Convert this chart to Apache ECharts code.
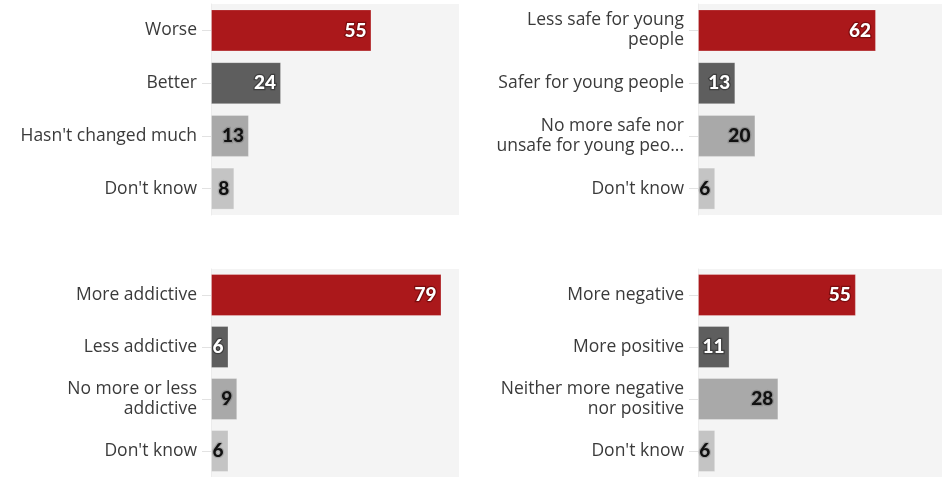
<!DOCTYPE html>
<html>
<head>
<meta charset="utf-8">
<script src="https://cdn.jsdelivr.net/npm/echarts@6/dist/echarts.min.js"></script>
<style>
html,body{margin:0;padding:0;background:#fff;}
#c{width:942px;height:477px;}
</style>
</head>
<body>
<div id="c"></div>
<script>
// Panel 1: top-left
const cats1 = ["Worse", "Better", "Hasn't changed much", "Don't know"];
const vals1 = [55, 24, 13, 8];
// Panel 2: top-right
const cats2 = ["Less safe for young\npeople", "Safer for young people", "No more safe nor\nunsafe for young peo...", "Don't know"];
const vals2 = [62, 13, 20, 6];
// Panel 3: bottom-left
const cats3 = ["More addictive", "Less addictive", "No more or less\naddictive", "Don't know"];
const vals3 = [79, 6, 9, 6];
// Panel 4: bottom-right
const cats4 = ["More negative", "More positive", "Neither more negative\nnor positive", "Don't know"];
const vals4 = [55, 11, 28, 6];

const barColors = ['#ab181b', '#5e5e5e', '#a9a9a9', '#c4c4c4'];
const txtColors = ['#ffffff', '#ffffff', '#111111', '#111111'];
const txtBorders = ['#7a0c0e', '#3e3e3e', '#8f8f8f', '#a8a8a8'];
const FONT = '"Open Sans", "Noto Sans", sans-serif';
const NUMFONT = 'Lato, "Noto Sans", sans-serif';

const grids = [
  {left: 211, top: 4, width: 248, height: 211},
  {left: 698, top: 4, width: 248, height: 211},
  {left: 211, top: 269, width: 248, height: 211},
  {left: 698, top: 269, width: 248, height: 211}
];
const catsAll = [cats1, cats2, cats3, cats4];
const valsAll = [vals1, vals2, vals3, vals4];

const option = {
  animation: false,
  backgroundColor: '#ffffff',
  grid: grids.map(g => Object.assign({show: true, backgroundColor: '#f4f4f4', borderWidth: 0}, g)),
  xAxis: grids.map((g, i) => ({
    type: 'value', gridIndex: i, min: 0, max: 85,
    axisLine: {show: false}, axisTick: {show: false}, axisLabel: {show: false}, splitLine: {show: false}
  })),
  yAxis: catsAll.map((c, i) => ({
    type: 'category', gridIndex: i, data: c, inverse: true,
    axisLine: {show: true, lineStyle: {color: '#ececec', width: 1}},
    axisTick: {show: true, alignWithLabel: true, length: 9, lineStyle: {color: '#e2e2e2', width: 1}},
    axisLabel: {margin: 14, fontSize: 17.5, color: '#3a3a3a', fontFamily: FONT, lineHeight: 20, align: 'right', padding: [5, 0, 0, 0]}
  })),
  series: valsAll.map((v, i) => ({
    type: 'bar', xAxisIndex: i, yAxisIndex: i, barWidth: 42,
    data: v.map((val, j) => ({
      value: val,
      itemStyle: {color: barColors[j], borderColor: 'rgba(255,255,255,0.25)', borderWidth: 1},
      label: {color: txtColors[j], textBorderColor: txtBorders[j]}
    })),
    label: {
      show: true, position: 'insideRight', distance: 5,
      fontSize: 19, fontWeight: 900, fontFamily: NUMFONT,
      textBorderWidth: 2.5
    }
  }))
};

const chart = echarts.init(document.getElementById('c'), null, {renderer: 'canvas'});
chart.setOption(option);
</script>
</body>
</html>
